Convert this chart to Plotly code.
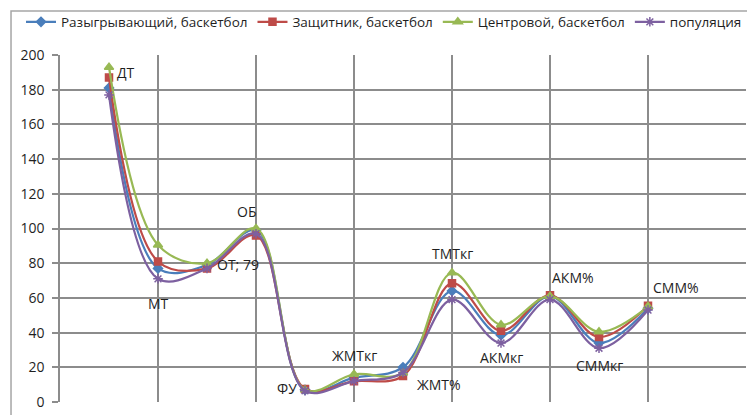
import plotly.graph_objects as go

# Показатели (порядок точек по оси X)
categories = ["ДТ", "МТ", "ОТ", "ОБ", "ФУ", "ЖМТкг", "ЖМТ%", "ТМТкг",
              "АКМкг", "АКМ%", "СММкг", "СММ%"]
positions = list(range(1, len(categories) + 1))

series_names = ["Разыгрывающий, баскетбол", "Защитник, баскетбол",
                "Центровой, баскетбол", "популяция"]

point_guard = [181, 77, 79, 99, 7, 14, 20, 64, 38.5, 61, 34, 54]
shooting_guard = [187, 81, 77, 96, 7.5, 12, 15, 68.5, 41, 61.5, 37.5, 55.5]
center = [193, 90.5, 80, 100, 7, 16, 16.7, 74.5, 44.5, 61, 40.5, 55]
population = [177, 71, 77, 97, 6.5, 12, 17, 59, 34, 59, 31, 53]

y_ticks = [0, 20, 40, 60, 80, 100, 120, 140, 160, 180, 200]

FONT = "Open Sans"
TEXT = "#1f1f1f"
GRID = "#8c8c8c"

styles = [
    ("#4A7EBB", "diamond", 7),
    ("#BE4B48", "square", 7),
    ("#98B954", "triangle-up", 8),
    ("#7D60A0", "asterisk-open", 8),
]

fig = go.Figure()
for name, vals, (col, sym, sz) in zip(
        series_names, [point_guard, shooting_guard, center, population], styles):
    fig.add_trace(go.Scatter(
        x=positions, y=vals, name=name, mode="lines+markers",
        line=dict(color=col, width=2.25, shape="spline", smoothing=1),
        marker=dict(color=col, symbol=sym, size=sz,
                    line=dict(color=col, width=1.5)),
        hoverinfo="skip",
    ))

# Подписи точек: (индекс, ряд, текст, сдвиг x, сдвиг y, привязка)
label_specs = [
    (0, center, "ДТ", 6, -5, "left"),
    (1, population, "МТ", 0, -25, "center"),
    (2, point_guard, "ОТ; " + f"{point_guard[2]:g}", 8, 0, "left"),
    (3, center, "ОБ", -10, 17, "center"),
    (4, shooting_guard, "ФУ", -6, 0, "right"),
    (5, center, "ЖМТкг", 0, 19, "center"),
    (6, shooting_guard, "ЖМТ%", 12, -9, "left"),
    (7, center, "ТМТкг", 0, 19, "center"),
    (8, population, "АКМкг", 0, -14, "center"),
    (9, shooting_guard, "АКМ%", 0, 18, "left"),
    (10, population, "СММкг", 0, -17, "center"),
    (11, shooting_guard, "СММ%", 3, 18, "left"),
]
for idx, vals, txt, dx, dy, anchor in label_specs:
    fig.add_annotation(
        x=positions[idx], y=vals[idx], text=txt, showarrow=False,
        xanchor=anchor, yanchor="middle", xshift=dx, yshift=dy,
        font=dict(family=FONT, size=14, color=TEXT),
    )

# Рамка области диаграммы
fig.add_shape(type="rect", xref="paper", yref="paper",
              x0=-0.0714, x1=1.2, y0=-0.2, y1=1.1268,
              line=dict(color="#a6a6a6", width=1.5), layer="below")

fig.update_layout(
    width=747, height=415,
    margin=dict(l=60, r=1, t=55, b=13),
    paper_bgcolor="white", plot_bgcolor="white",
    font=dict(family=FONT, size=14, color=TEXT),
    showlegend=True,
    legend=dict(orientation="h", x=-0.052, y=1.095, xanchor="left",
                yanchor="middle", itemwidth=30,
                font=dict(family=FONT, size=13.5, color=TEXT),
                bgcolor="rgba(0,0,0,0)", tracegroupgap=0),
    xaxis=dict(range=[0, 14], tickmode="linear", tick0=0, dtick=2,
               showticklabels=False, showgrid=True, gridcolor=GRID,
               gridwidth=1.5, zeroline=False, showline=False, ticks=""),
    yaxis=dict(range=[0, 200], tickmode="array", tickvals=y_ticks,
               showgrid=True, gridcolor=GRID, gridwidth=1.5,
               zeroline=False, showline=True, linecolor=GRID, linewidth=1.5,
               ticks="outside", ticklen=6, tickcolor=GRID, tickwidth=1.5,
               ticklabelstandoff=5,
               tickfont=dict(family=FONT, size=14, color=TEXT)),
)

fig.write_html("out.html")
